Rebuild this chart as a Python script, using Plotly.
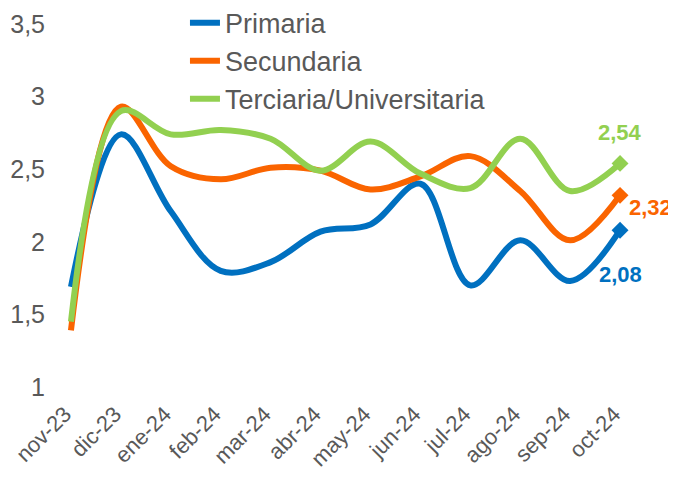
import plotly.graph_objects as go

months = ["nov-23", "dic-23", "ene-24", "feb-24", "mar-24", "abr-24",
          "may-24", "jun-24", "jul-24", "ago-24", "sep-24", "oct-24"]
primaria = [1.69, 2.74, 2.21, 1.80, 1.86, 2.07, 2.12, 2.40, 1.70, 2.01, 1.73, 2.08]
secundaria = [1.39, 2.93, 2.52, 2.43, 2.51, 2.49, 2.36, 2.45, 2.59, 2.35, 2.01, 2.32]
terciaria = [1.45, 2.90, 2.74, 2.77, 2.71, 2.49, 2.69, 2.47, 2.37, 2.71, 2.35, 2.54]
right_ticks = [1, 2, 3]

series = [
    ("Primaria", primaria, "#0070C0"),
    ("Secundaria", secundaria, "#FA6400"),
    ("Terciaria/Universitaria", terciaria, "#92D050"),
]
label_shift = {"Primaria": (0, -44), "Secundaria": (30, -12), "Terciaria/Universitaria": (0, 31)}

fig = go.Figure()
for name, vals, col in series:
    fig.add_trace(go.Scatter(
        x=months, y=vals, name=name, mode="lines",
        line=dict(color=col, width=6, shape="spline", smoothing=1.0),
    ))
for name, vals, col in series:
    fig.add_trace(go.Scatter(
        x=[months[-1]], y=[vals[-1]], mode="markers", showlegend=False,
        marker=dict(symbol="diamond", size=13, color=col),
        hoverinfo="skip",
    ))
    dx, dy = label_shift[name]
    fig.add_annotation(
        x=months[-1], y=vals[-1], text="<b>" + f"{vals[-1]:.2f}".replace(".", ",") + "</b>",
        showarrow=False, xshift=dx, yshift=dy,
        font=dict(family="Liberation Sans, Arial", size=22, color=col),
    )

# empty trace so the secondary (right) axis is drawn
fig.add_trace(go.Scatter(x=[months[0]], y=[None], yaxis="y2", mode="lines",
                         showlegend=False, hoverinfo="skip"))

fig.update_layout(
    width=668, height=470,
    margin=dict(l=38, r=31, t=16, b=91, autoexpand=False),
    paper_bgcolor="white", plot_bgcolor="white",
    separators=",.",
    font=dict(family="Liberation Sans, Arial", color="#595959"),
    showlegend=True,
    legend=dict(
        x=0.232, y=1.07, xanchor="left", yanchor="top",
        font=dict(size=27, color="#595959"),
        bgcolor="rgba(0,0,0,0)", tracegroupgap=0, itemwidth=30,
    ),
    xaxis=dict(
        type="category", range=[-0.5, 11.5], tickangle=-45, automargin=False,
        showgrid=False, showline=False, zeroline=False,
        tickfont=dict(size=22, color="#595959"), ticks="",
        ticklabelshift=-6, ticklabelstandoff=9,
    ),
    yaxis=dict(
        range=[1, 3.5], dtick=0.5, tick0=1, automargin=False,
        showgrid=False, showline=False, zeroline=False,
        tickfont=dict(size=25, color="#595959"), ticks="",
    ),
    yaxis2=dict(
        overlaying="y", side="right", range=[0.55, 3.0], automargin=False,
        tickvals=right_ticks, showgrid=False, showline=False, zeroline=False,
        tickfont=dict(size=25, color="#595959"), ticks="", ticklabelstandoff=24,
    ),
)

fig.write_html("out.html")
